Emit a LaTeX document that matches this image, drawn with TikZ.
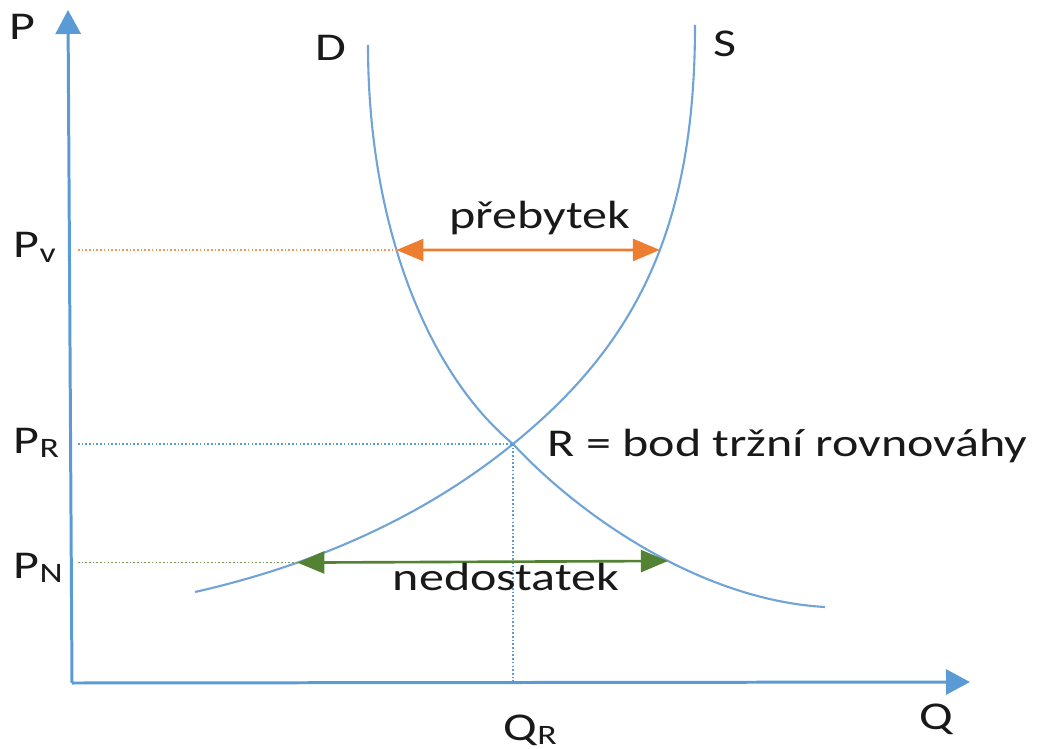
\documentclass[tikz,border=0pt]{standalone}
\usepackage{fontspec}
\setmainfont{Carlito}[FakeStretch=1.27]
\usepackage{tikz}
\usetikzlibrary{arrows.meta, positioning, calc, intersections}

\definecolor{axisblue}{RGB}{91,155,213}
\definecolor{curveblue}{RGB}{112,163,214}
\definecolor{surplus}{RGB}{237,125,49}
\definecolor{shortage}{RGB}{84,130,53}
\newcommand{\pricesub}[2]{#1{\fontsize{8}{9}\selectfont\raisebox{-0.35ex}{#2}}}

\begin{document}
\begin{tikzpicture}[x=0.01cm, y=-0.01cm, font=\fontsize{11.2}{13}\selectfont,
		axis/.style={axisblue, line width=0.85pt, -{Triangle[length=0.24cm, width=0.25cm]}},
		curve/.style={curveblue, line width=0.6pt},
		guide/.style={line width=0.5pt, dash pattern=on 0.45pt off 0.6pt},
		gap/.style={line width=0.75pt, {Triangle[length=0.27cm, width=0.22cm]}-{Triangle[length=0.27cm, width=0.22cm]}},
		lbl/.style={inner sep=0pt, text=black!90}]
	\useasboundingbox (0,0) rectangle (1040,749);
	% axes
	\coordinate (O) at (72,683);
	\coordinate (gx) at (78,683);
	\coordinate (Ptip) at (68,10);
	\coordinate (Qtip) at (970,682);
	\draw[axis] (O) -- (Ptip);
	\draw[axis] (O) -- (Qtip);
	\node[lbl] (P) at (22,27) {P};
	\node[lbl] (Q) at (936,719) {Q};
	% demand and supply
	\draw[curve, name path=demand] (368,45) .. controls (368,230) and (430,375) .. (513,444)
		.. controls (579,515) and (700,600) .. (825,607);
	\draw[curve, name path=supply] (695,25) .. controls (695,230) and (635,345) .. (513,444)
		.. controls (410,528) and (292,570) .. (195,592);
	\node[lbl] (D) at (331,48) {D};
	\node[lbl] (S) at (725,44) {S};
	% points on the curves
	\path[name path=highline] (200,250) -- (900,250);
	\path[name path=lowline] (200,563) -- (900,560);
	\path[name intersections={of=demand and highline, by=Dv}];
	\path[name intersections={of=supply and highline, by=Sv}];
	\path[name intersections={of=demand and lowline, by=DN}];
	\path[name intersections={of=supply and lowline, by=SN}];
	\coordinate (R) at (513,444);
	% guides to the axes
	\draw[guide, surplus!80] (Dv -| gx) -- (Dv);
	\draw[guide, axisblue] (R -| gx) -- (R);
	\draw[guide, axisblue] (R) -- (R |- O);
	\draw[guide, shortage!80] (SN -| gx) -- (SN);
	% surplus and shortage
	\draw[gap, surplus] (Dv) -- (Sv);
	\draw[gap, shortage] (SN) -- (DN);
	\node[lbl] (prebytek) at (540,218) {přebytek};
	\node[lbl] (nedostatek) at (506,577) {nedostatek};
	\node[lbl, anchor=west] (rovnovaha) at (547,446) {R = bod tržní rovnováhy};
	% price and quantity labels
	\node[lbl, anchor=base west] (Pv) at (13,258) {\pricesub{P}{v}};
	\node[lbl, anchor=base west] (PR) at (13,453) {\pricesub{P}{R}};
	\node[lbl, anchor=base west] (PN) at (13,578) {\pricesub{P}{N}};
	\node[lbl, anchor=base west] (QR) at (503,740) {\pricesub{Q}{R}};
\end{tikzpicture}
\end{document}
